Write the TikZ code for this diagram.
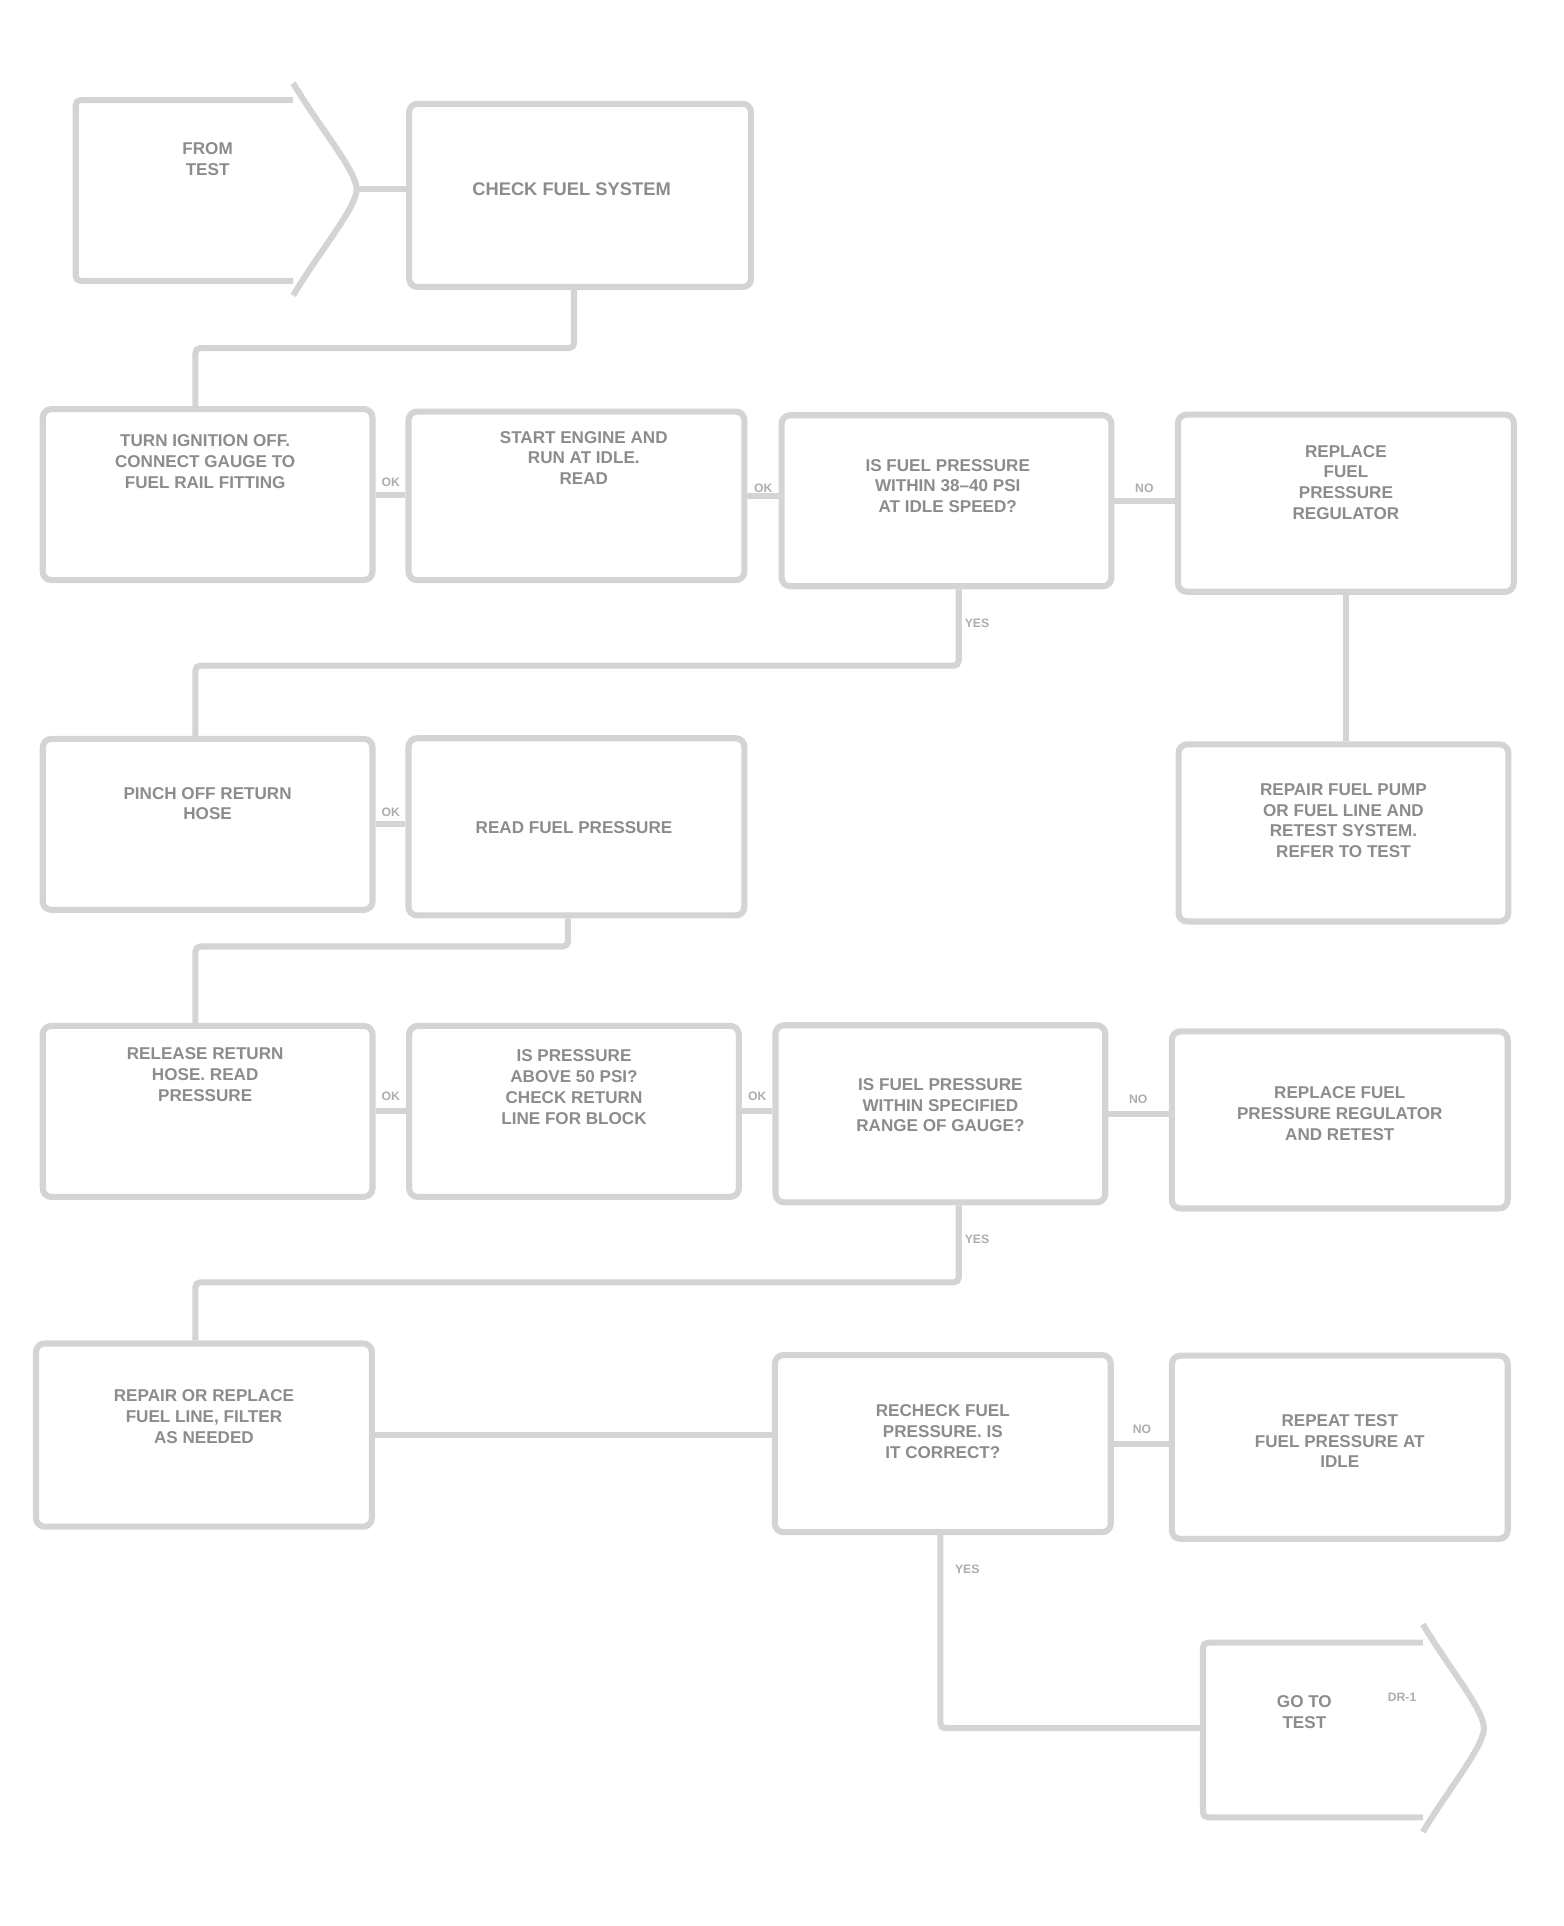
\documentclass[tikz,border=0pt]{standalone}
\usepackage{fontspec}
\setmainfont{Liberation Sans}
\begin{document}
\begin{tikzpicture}[x=1pt,y=-1pt,
  box/.style={draw=black!17, line width=5pt, rounded corners=7pt, fill=white, inner sep=0pt},
  txt/.style={text=black!45, font=\fontsize{14}{17}\selectfont\bfseries, align=center, inner sep=0pt},
  conn/.style={draw=black!17, line width=5pt, rounded corners=4pt},
  lab/.style={text=black!32, font=\fontsize{10}{11}\selectfont\bfseries, inner sep=1pt}]
\useasboundingbox (0,0) rectangle (1280,1577);

% start terminal
\draw[conn] (240,82) -- (62,82) -- (62,230) -- (240,230);
\draw[conn, rounded corners=0pt] (240,68) .. controls (262,105) and (292,140) .. (292,155) .. controls (292,170) and (262,205) .. (240,242);
\node[txt] (s) at (170,130) {FROM\\TEST};
\coordinate (stip) at (292,155);

% row 1
\node[box, minimum width=280pt, minimum height=150pt] (a2) at (475,160) {};
\node[txt, font=\fontsize{15}{17}\selectfont\bfseries] (a2t) at (468,155) {CHECK FUEL SYSTEM};

% row 2
\node[box, minimum width=270pt, minimum height=140pt] (b1) at (170,405) {};
\node[txt] (b1t) at (168,378) {TURN IGNITION OFF.\\CONNECT GAUGE TO\\FUEL RAIL FITTING};
\node[box, minimum width=275pt, minimum height=138pt] (b2) at (472,406) {};
\node[txt] (b2t) at (478,375) {START ENGINE AND\\RUN AT IDLE.\\READ};
\node[box, minimum width=270pt, minimum height=140pt] (b3) at (775,410) {};
\node[txt] (b3t) at (776,398) {IS FUEL PRESSURE\\WITHIN 38--40 PSI\\AT IDLE SPEED?};
\node[box, minimum width=275pt, minimum height=145pt] (b4) at (1102,412) {};
\node[txt] (b4t) at (1102,395) {REPLACE\\FUEL\\PRESSURE\\REGULATOR};

% row 3
\node[box, minimum width=270pt, minimum height=140pt] (c1) at (170,675) {};
\node[txt] (c1t) at (170,658) {PINCH OFF RETURN\\HOSE};
\node[box, minimum width=275pt, minimum height=145pt] (c2) at (472,677) {};
\node[txt] (c2t) at (470,678) {READ FUEL PRESSURE};
\node[box, minimum width=270pt, minimum height=145pt] (c4) at (1100,682) {};
\node[txt] (c4t) at (1100,672) {REPAIR FUEL PUMP\\OR FUEL LINE AND\\RETEST SYSTEM.\\REFER TO TEST};

% row 4
\node[box, minimum width=270pt, minimum height=140pt] (d1) at (170,910) {};
\node[txt] (d1t) at (168,880) {RELEASE RETURN\\HOSE. READ\\PRESSURE};
\node[box, minimum width=270pt, minimum height=140pt] (d2) at (470,910) {};
\node[txt] (d2t) at (470,890) {IS PRESSURE\\ABOVE 50 PSI?\\CHECK RETURN\\LINE FOR BLOCK};
\node[box, minimum width=270pt, minimum height=145pt] (d3) at (770,912) {};
\node[txt] (d3t) at (770,905) {IS FUEL PRESSURE\\WITHIN SPECIFIED\\RANGE OF GAUGE?};
\node[box, minimum width=275pt, minimum height=145pt] (d4) at (1097,917) {};
\node[txt] (d4t) at (1097,912) {REPLACE FUEL\\PRESSURE REGULATOR\\AND RETEST};

% row 5
\node[box, minimum width=275pt, minimum height=150pt] (e1) at (167,1175) {};
\node[txt] (e1t) at (167,1160) {REPAIR OR REPLACE\\FUEL LINE, FILTER\\AS NEEDED};
\node[box, minimum width=275pt, minimum height=145pt] (e3) at (772,1182) {};
\node[txt] (e3t) at (772,1172) {RECHECK FUEL\\PRESSURE. IS\\IT CORRECT?};
\node[box, minimum width=275pt, minimum height=150pt] (e4) at (1097,1185) {};
\node[txt] (e4t) at (1097,1180) {REPEAT TEST\\FUEL PRESSURE AT\\IDLE};

% end terminal
\draw[conn] (1165,1345) -- (985,1345) -- (985,1488) -- (1165,1488);
\draw[conn, rounded corners=0pt] (1165,1330) .. controls (1188,1368) and (1215,1400) .. (1215,1415) .. controls (1215,1430) and (1188,1462) .. (1165,1500);
\node[txt] (et) at (1068,1402) {GO TO\\TEST};
\node[lab] (etl) at (1148,1390) {DR-1};
\coordinate (ew) at (985,1415);

% connectors
\draw[conn] (stip) -- (stip -| a2.west);
\draw[conn] (a2.south -| 470,0) -- (470,285) -- (160,285) -- (b1.north -| 160,0);
\draw[conn] (b1.east) -- (b1.east -| b2.west);
\node[lab] (l1) at (320,395) {OK};
\draw[conn] (b2.east) -- (b2.east -| b3.west);
\node[lab] (l2) at (625,400) {OK};
\draw[conn] (b3.east) -- (b3.east -| b4.west);
\node[lab] (l3) at (937,400) {NO};
\draw[conn] (b3.south -| 785,0) -- (785,545) -- (160,545) -- (c1.north -| 160,0);
\node[lab] (l4) at (800,510) {YES};
\draw[conn] (b4.south) -- (b4.south |- c4.north);
\draw[conn] (c1.east) -- (c1.east -| c2.west);
\node[lab] (l5) at (320,665) {OK};
\draw[conn] (c2.south -| 465,0) -- (465,775) -- (160,775) -- (d1.north -| 160,0);
\draw[conn] (d1.east) -- (d1.east -| d2.west);
\node[lab] (l6) at (320,898) {OK};
\draw[conn] (d2.east) -- (d2.east -| d3.west);
\node[lab] (l7) at (620,898) {OK};
\draw[conn] (d3.east) -- (d3.east -| d4.west);
\node[lab] (l8) at (932,900) {NO};
\draw[conn] (d3.south -| 785,0) -- (785,1050) -- (160,1050) -- (e1.north -| 160,0);
\node[lab] (l9) at (800,1015) {YES};
\draw[conn] (e1.east) -- (e1.east -| e3.west);
\draw[conn] (e3.east) -- (e3.east -| e4.west);
\node[lab] (l10) at (935,1170) {NO};
\draw[conn] (e3.south -| 770,0) -- (770,1415) -- (ew);
\node[lab] (l11) at (792,1285) {YES};
\end{tikzpicture}
\end{document}
